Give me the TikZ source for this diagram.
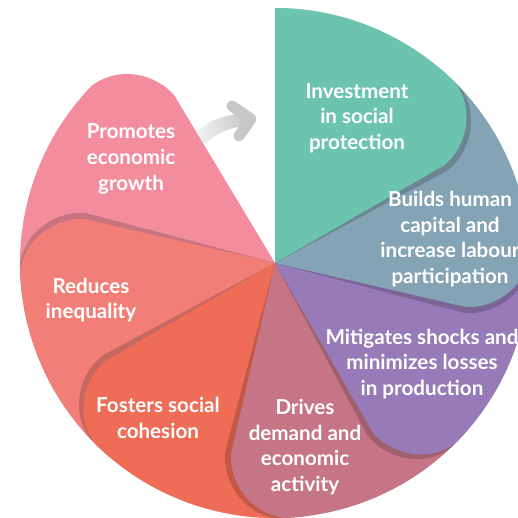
\documentclass[tikz,border=0pt]{standalone}
\usepackage{fontspec}
\setmainfont{Lato}

\definecolor{investgreen}{HTML}{6CC4AE}
\definecolor{capitalblue}{HTML}{84A3B4}
\definecolor{shockpurple}{HTML}{967BB8}
\definecolor{demandmauve}{HTML}{C57586}
\definecolor{cohesionred}{HTML}{EF6C57}
\definecolor{equalsalmon}{HTML}{F17F78}
\definecolor{growthpink}{HTML}{F38D9D}
\definecolor{arrowgray}{HTML}{C6C7C9}

\newcommand{\petal}[3][]{\fill[#1] (0,0) -- (#2:255) arc[start angle=#2, end angle=#3+15, radius=255] .. controls (#3+7:252) and (#3+1:222) .. (#3:195) -- cycle;}

\tikzset{
  petalshadow/.style={black, opacity=0.18, rotate=-1.8},
  petaltext/.style={text=white, align=center, font=\bfseries\fontsize{10.3}{12.8}\selectfont}
}

\begin{document}
\begin{tikzpicture}[x=0.5pt, y=0.5pt]
\useasboundingbox (-275,-255) rectangle (243,263);
\shade[left color=arrowgray!20, right color=arrowgray] (-79,131) .. controls (-60,145) .. (-32,150) -- (-30,138) .. controls (-53,132) .. (-71,119) -- cycle;
\draw[arrowgray, line width=5.5pt, line cap=round, line join=round] (-43,157) -- (-24,144) -- (-36,127);
\petal[fill=growthpink]{-173}{-239}
\petal[petalshadow]{-130}{-193}
\petal[fill=equalsalmon]{-130}{-193}
\petal[petalshadow]{-83}{-150}
\petal[fill=cohesionred]{-83}{-150}
\petal[petalshadow]{-40}{-103}
\petal[fill=demandmauve]{-40}{-103}
\petal[petalshadow]{10}{-60}
\petal[fill=shockpurple]{10}{-60}
\petal[petalshadow]{50}{-13}
\petal[fill=capitalblue]{50}{-13}
\petal[petalshadow]{90}{30}
\petal[fill=investgreen]{90}{30}
\node[petaltext] (invest) at (82,145) {Investment\\in social\\protection};
\node[petaltext] (capital) at (175,24) {Builds human\\capital and\\increase labour\\participation};
\node[petaltext] (shocks) at (147,-101) {Mitigates shocks and\\minimizes losses\\in production};
\node[petaltext] (demand) at (30,-184) {Drives\\demand and\\economic\\activity};
\node[petaltext] (cohesion) at (-117,-155) {Fosters social\\cohesion};
\node[petaltext] (inequality) at (-184,-37) {Reduces\\inequality};
\node[petaltext] (growth) at (-144,104) {Promotes\\economic\\growth};
\end{tikzpicture}
\end{document}
